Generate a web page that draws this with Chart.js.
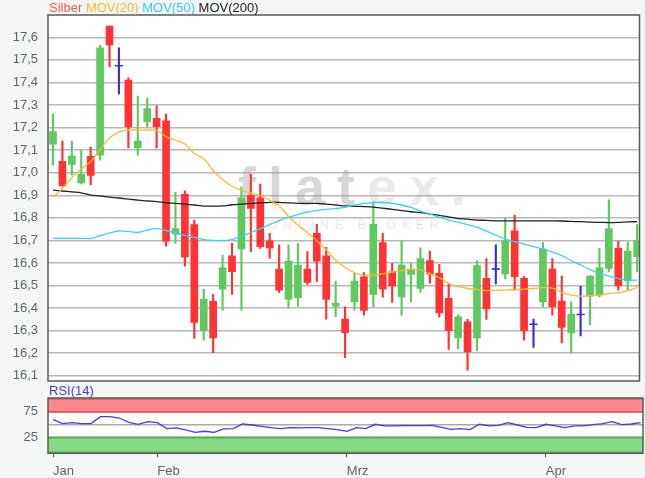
<!DOCTYPE html>
<html>
<head>
<meta charset="utf-8">
<script src="https://cdn.jsdelivr.net/npm/chart.js@4.4.1/dist/chart.umd.min.js"></script>
<style>
  body { margin: 0; background: #f4f6f6; font-family: "Liberation Sans", Arial, sans-serif; }
  #wrap { position: relative; width: 645px; height: 478px; overflow: hidden; }
  canvas { position: absolute; left: 0; }
  #legend { position: absolute; left: 49px; top: 0px; font-size: 13px; white-space: pre; }
  #rsiLabel { position: absolute; left: 49px; top: 383px; font-size: 13px; color: #3a3aff; }
</style>
</head>
<body>
<div id="wrap">
  <canvas id="priceChart" width="645" height="390" style="top:0"></canvas>
  <canvas id="rsiChart" width="645" height="98" style="top:380px"></canvas>
  <div id="legend"><span style="color:#ff5a4a">Silber</span> <span style="color:#ffb833">MOV(20)</span> <span style="color:#33ccee">MOV(50)</span> <span style="color:#222">MOV(200)</span></div>
  <div id="rsiLabel">RSI(14)</div>
</div>
<script>
// candles, one per trading day (index 0 = first day in Jan)
const open  = [17.127,17.05,17.037,16.955,17.073,17.078,17.65,17.474,17.411,17.11,17.226,17.241,17.23,16.728,16.904,16.77,
               16.30,16.43,16.484,16.632,16.662,16.90,16.889,16.698,16.573,16.439,16.446,16.573,16.731,16.632,16.409,
               16.351,16.428,16.539,16.461,16.69,16.561,16.45,16.549,16.487,16.611,16.554,16.443,16.268,16.339,16.268,
               16.532,16.573,16.551,16.743,16.532,16.329,16.428,16.573,16.431,16.29,16.372,16.453,16.458,16.576,16.665,16.52,16.628];
const high  = [17.261,17.14,17.14,17.10,17.114,17.565,17.65,17.554,17.421,17.34,17.33,17.297,17.26,16.913,16.92,16.79,
               16.483,16.461,16.635,16.687,16.938,16.993,16.95,16.731,16.68,16.68,16.687,16.65,16.771,16.669,16.52,
               16.406,16.558,16.558,16.871,16.731,16.598,16.697,16.598,16.667,16.653,16.594,16.51,16.37,16.35,16.61,
               16.62,16.68,16.798,16.812,16.54,16.351,16.69,16.62,16.542,16.428,16.497,16.545,16.665,16.88,16.697,16.694,16.77];
const low   = [17.034,16.94,16.99,16.95,16.947,17.056,17.47,17.349,17.11,17.078,17.204,17.11,16.675,16.687,16.586,16.266,
               16.258,16.202,16.391,16.461,16.391,16.65,16.665,16.62,16.47,16.40,16.409,16.505,16.517,16.351,16.362,
               16.18,16.391,16.369,16.406,16.448,16.425,16.369,16.428,16.47,16.511,16.36,16.217,16.22,16.125,16.21,
               16.35,16.507,16.529,16.48,16.258,16.226,16.406,16.369,16.246,16.20,16.277,16.325,16.45,16.561,16.48,16.48,16.561];
const close = [17.182,16.942,17.074,16.993,16.988,17.554,17.566,17.474,17.204,17.14,17.284,17.204,16.697,16.753,16.627,16.337,
               16.44,16.268,16.579,16.561,16.889,16.842,16.672,16.667,16.48,16.608,16.591,16.514,16.608,16.439,16.421,
               16.291,16.52,16.39,16.771,16.484,16.498,16.591,16.573,16.62,16.551,16.379,16.30,16.361,16.206,16.588,
               16.396,16.573,16.698,16.539,16.30,16.329,16.662,16.406,16.315,16.372,16.372,16.542,16.579,16.753,16.498,16.653,16.699];

const mov20 = [16.892,16.930,16.979,17.016,17.049,17.103,17.154,17.180,17.189,17.189,17.189,17.188,17.159,17.145,17.127,17.085,
               17.062,17.010,16.970,16.940,16.922,16.910,16.899,16.878,16.853,16.806,16.768,16.735,16.697,16.659,16.612,
               16.580,16.557,16.544,16.546,16.552,16.560,16.566,16.571,16.569,16.553,16.535,16.509,16.495,16.487,16.482,
               16.478,16.479,16.480,16.482,16.484,16.487,16.491,16.489,16.469,16.458,16.453,16.455,16.458,16.464,16.469,16.476,16.492];
const mov50 = [16.709,16.709,16.709,16.709,16.709,16.721,16.733,16.742,16.739,16.736,16.746,16.752,16.744,16.733,16.722,16.713,
               16.704,16.700,16.700,16.704,16.719,16.735,16.752,16.770,16.788,16.803,16.815,16.826,16.832,16.838,16.841,
               16.846,16.857,16.863,16.868,16.868,16.864,16.857,16.846,16.830,16.817,16.803,16.790,16.781,16.770,16.759,
               16.741,16.724,16.706,16.695,16.684,16.673,16.662,16.648,16.633,16.611,16.591,16.571,16.555,16.542,16.531,16.524,16.524];
const mov200 = [16.923,16.919,16.915,16.911,16.901,16.897,16.892,16.888,16.883,16.879,16.875,16.872,16.867,16.864,16.861,16.857,
                16.852,16.852,16.853,16.858,16.861,16.864,16.866,16.869,16.869,16.866,16.864,16.864,16.864,16.861,16.857,
                16.853,16.851,16.850,16.848,16.843,16.838,16.832,16.827,16.823,16.817,16.811,16.804,16.797,16.794,16.790,
                16.789,16.787,16.787,16.787,16.787,16.787,16.787,16.787,16.786,16.784,16.783,16.781,16.780,16.779,16.780,16.782,16.783];

const rsi = [59.8,52.0,53.9,52.0,52.0,65.6,65.6,63.0,54.6,50.7,55.9,53.9,42.2,43.5,39.6,35.0,
             37.0,35.0,41.5,42.2,51.3,49.3,46.7,44.1,42.2,44.1,43.5,44.1,44.1,42.2,40.2,
             37.0,44.1,42.2,50.7,47.4,47.4,48.0,48.0,48.0,48.7,44.8,40.9,42.2,40.2,50.7,
             47.4,48.7,53.9,49.3,44.8,44.1,50.7,47.4,44.1,47.4,47.4,50.0,52.0,55.9,50.0,51.3,53.9];

const priceTicks = [16.1,16.2,16.3,16.4,16.5,16.6,16.7,16.8,16.9,17.0,17.1,17.2,17.3,17.4,17.5,17.6];
const rsiTicks = [25, 75];
const monthLabels = ['Jan', 'Feb', 'Mrz', 'Apr'];
const monthIdx = [0, 11, 31, 52];

const idx = close.map((_, i) => i);
const GREEN = '#5ec95e', RED = '#ff3333', BLUE = '#3a2ee0';
function candleColor(i) {
  if (close[i] > open[i]) return GREEN;
  if (close[i] < open[i]) return RED;
  return BLUE;
}

const FONT = { family: '"Liberation Sans", Arial, sans-serif', size: 13 };
const TICK_COLOR = '#5b6670';
const X_MIN = -0.53, X_MAX = 62.25;

const plotBox = {
  id: 'plotBox',
  beforeDraw(chart) {
    const { ctx, chartArea: a } = chart;
    ctx.save();
    ctx.fillStyle = '#ffffff';
    ctx.fillRect(a.left, a.top, a.right - a.left, a.bottom - a.top);
    if (chart.canvas.id === 'rsiChart') {
      const y = chart.scales.y;
      ctx.fillStyle = '#ff8888';
      ctx.fillRect(a.left, a.top, a.right - a.left, y.getPixelForValue(73) - a.top);
      ctx.fillStyle = 'rgba(200,60,60,0.45)';
      ctx.fillRect(a.left, a.top, a.right - a.left, 2);
      ctx.fillStyle = '#88d888';
      const g = y.getPixelForValue(27.5);
      ctx.fillRect(a.left, g, a.right - a.left, a.bottom - g);
      ctx.fillStyle = 'rgba(60,140,60,0.45)';
      ctx.fillRect(a.left, a.bottom - 2, a.right - a.left, 2);
      ctx.strokeStyle = '#aaaaaa';
      ctx.lineWidth = 1.5;
      const m = y.getPixelForValue(50);
      ctx.beginPath(); ctx.moveTo(a.left, m); ctx.lineTo(a.right, m); ctx.stroke();
    }
    ctx.restore();
  },
  beforeDatasetsDraw(chart) {
    if (chart.canvas.id !== 'priceChart') return;
    const ctx = chart.ctx;
    ctx.save();
    ctx.font = 'bold 54px "Liberation Sans", Arial, sans-serif';
    ctx.letterSpacing = '12px';
    ctx.textBaseline = 'alphabetic';
    ctx.fillStyle = 'rgba(150,150,150,0.38)';
    ctx.fillText('flat', 238, 205);
    const w = ctx.measureText('flat').width;
    ctx.fillStyle = 'rgba(150,150,150,0.2)';
    ctx.fillText('ex.', 238 + w, 205);
    ctx.font = '12px "Liberation Sans", Arial, sans-serif';
    ctx.letterSpacing = '6px';
    ctx.fillStyle = 'rgba(150,150,150,0.22)';
    ctx.fillText('ONLINE BROKER', 268, 229);
    ctx.restore();
  },
  afterDraw(chart) {
    const { ctx, chartArea: a } = chart;
    ctx.save();
    ctx.strokeStyle = '#5a5a5a';
    ctx.lineWidth = 1.5;
    ctx.strokeRect(a.left, a.top, a.right - a.left, a.bottom - a.top);
    ctx.restore();
  }
};

new Chart(document.getElementById('priceChart'), {
  type: 'bar',
  data: {
    datasets: [
      { type: 'line', data: idx.map(i => ({ x: i, y: mov20[i] })), borderColor: '#ffb833', borderWidth: 1.3, pointRadius: 0, tension: 0.3, order: 0 },
      { type: 'line', data: idx.map(i => ({ x: i, y: mov50[i] })), borderColor: '#33d4f5', borderWidth: 1.3, pointRadius: 0, tension: 0.3, order: 0 },
      { type: 'line', data: idx.map(i => ({ x: i, y: mov200[i] })), borderColor: '#222222', borderWidth: 1.3, pointRadius: 0, tension: 0.3, order: 0 },
      { type: 'line', data: idx.map(i => ({ x: i, y: open[i] === close[i] ? close[i] : null })), showLine: false,
        pointStyle: 'line', pointRadius: 4, borderColor: BLUE, borderWidth: 1.5, order: 1 },
      { type: 'bar', data: idx.map(i => ({ x: i, y: [open[i], close[i]] })), backgroundColor: c => candleColor(c.dataIndex),
        barThickness: 7, grouped: false, order: 2 },
      { type: 'bar', data: idx.map(i => ({ x: i, y: [low[i], high[i]] })), backgroundColor: c => candleColor(c.dataIndex),
        barThickness: 1.5, grouped: false, order: 3 }
    ]
  },
  options: {
    responsive: false,
    animation: false,
    layout: { padding: { top: 15, right: 2, bottom: 9, left: 0 } },
    plugins: { legend: { display: false }, tooltip: { enabled: false } },
    scales: {
      x: { type: 'linear', min: X_MIN, max: X_MAX, offset: false, display: false },
      y: {
        min: 16.077, max: 17.699,
        afterFit: s => { s.width = 48; },
        afterBuildTicks: s => { s.ticks = priceTicks.map(v => ({ value: v })); },
        grid: { color: '#b8b8b8', lineWidth: 1.5, drawTicks: true, tickLength: 10, tickColor: 'rgba(0,0,0,0)' },
        border: { display: false },
        ticks: { padding: 0, color: TICK_COLOR, font: FONT, callback: v => v.toFixed(1).replace('.', ',') }
      }
    }
  },
  plugins: [plotBox]
});

new Chart(document.getElementById('rsiChart'), {
  type: 'line',
  data: {
    datasets: [
      { data: idx.map(i => ({ x: i, y: rsi[i] })), borderColor: '#3c3cff', borderWidth: 1.3, pointRadius: 0, tension: 0 }
    ]
  },
  options: {
    responsive: false,
    animation: false,
    layout: { padding: { top: 18, right: 2, bottom: 0, left: 0 } },
    plugins: { legend: { display: false }, tooltip: { enabled: false } },
    scales: {
      x: {
        type: 'linear', min: X_MIN, max: X_MAX, offset: false,
        afterFit: s => { s.height = 24.7; },
        afterBuildTicks: s => { s.ticks = monthIdx.map(v => ({ value: v })); },
        grid: { drawOnChartArea: false, drawTicks: true, tickLength: 4, color: '#555555', offset: false },
        border: { display: false },
        ticks: { align: 'start', padding: 6, autoSkip: false, maxRotation: 0, color: TICK_COLOR, font: FONT,
                 callback: (v, i) => monthLabels[i] }
      },
      y: {
        min: -6.25, max: 102.3,
        afterFit: s => { s.width = 48; },
        afterBuildTicks: s => { s.ticks = rsiTicks.map(v => ({ value: v })); },
        grid: { color: c => c.tick && c.tick.value === 75 ? 'rgba(170,50,50,0.55)' : 'rgba(50,130,50,0.55)', lineWidth: 1.5,
                drawTicks: true, tickLength: 10, tickColor: 'rgba(0,0,0,0)' },
        border: { display: false },
        ticks: { padding: 0, color: TICK_COLOR, font: FONT }
      }
    }
  },
  plugins: [plotBox]
});
</script>
</body>
</html>
